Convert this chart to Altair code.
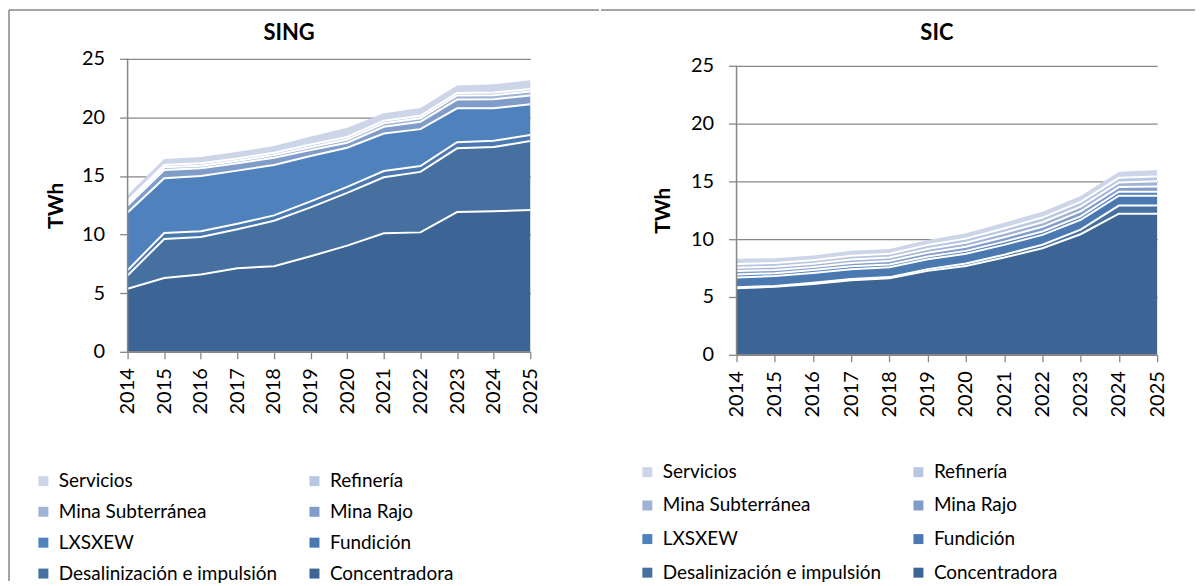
import altair as alt
import pandas as pd

years = list(range(2014, 2026))
categories = ["Servicios", "Refinería", "Mina Subterránea", "Mina Rajo",
              "LXSXEW", "Fundición", "Desalinización e impulsión", "Concentradora"]
palette = ["#CDD6E8", "#B7C6E1", "#A0B3D6", "#809CC9",
           "#4F81BD", "#4A78B0", "#4570A0", "#3C6494"]

# SING (TWh)
sing_concentradora = [5.38, 6.29, 6.60, 7.13, 7.30, 8.15, 9.06, 10.11, 10.19, 11.92, 12.00, 12.09]
sing_desalinizacion = [1.13, 3.34, 3.20, 3.32, 3.88, 4.17, 4.50, 4.78, 5.16, 5.44, 5.47, 5.89]
sing_fundicion = [0.45, 0.51, 0.48, 0.48, 0.46, 0.51, 0.51, 0.54, 0.50, 0.53, 0.53, 0.51]
sing_lxsxew = [4.93, 4.67, 4.73, 4.53, 4.30, 3.87, 3.34, 3.20, 3.15, 2.89, 2.78, 2.63]
sing_mina_rajo = [0.60, 0.71, 0.65, 0.62, 0.62, 0.51, 0.43, 0.57, 0.62, 0.74, 0.77, 0.74]
sing_mina_sub = [0.20, 0.22, 0.22, 0.22, 0.22, 0.25, 0.27, 0.30, 0.30, 0.35, 0.35, 0.35]
sing_refineria = [0.20, 0.20, 0.20, 0.20, 0.20, 0.22, 0.22, 0.22, 0.22, 0.22, 0.22, 0.22]
sing_servicios = [0.50, 0.51, 0.54, 0.57, 0.57, 0.69, 0.78, 0.64, 0.67, 0.64, 0.70, 0.73]

# SIC (TWh)
sic_concentradora = [5.76, 5.88, 6.13, 6.45, 6.62, 7.26, 7.69, 8.41, 9.22, 10.43, 12.21, 12.21]
sic_desalinizacion = [0.08, 0.08, 0.10, 0.10, 0.10, 0.15, 0.20, 0.25, 0.30, 0.40, 0.70, 0.70]
sic_fundicion = [0.85, 0.85, 0.85, 0.85, 0.85, 0.85, 0.85, 0.85, 0.85, 0.85, 0.85, 0.85]
sic_lxsxew = [0.25, 0.25, 0.25, 0.25, 0.25, 0.25, 0.25, 0.28, 0.30, 0.30, 0.35, 0.35]
sic_mina_rajo = [0.30, 0.28, 0.27, 0.30, 0.30, 0.32, 0.35, 0.38, 0.40, 0.42, 0.40, 0.45]
sic_mina_sub = [0.30, 0.28, 0.27, 0.30, 0.30, 0.32, 0.35, 0.38, 0.40, 0.42, 0.40, 0.45]
sic_refineria = [0.32, 0.32, 0.31, 0.32, 0.32, 0.34, 0.36, 0.38, 0.40, 0.40, 0.40, 0.42]
sic_servicios = [0.44, 0.42, 0.40, 0.42, 0.42, 0.45, 0.46, 0.50, 0.51, 0.52, 0.53, 0.56]

sing = {
    "Concentradora": sing_concentradora, "Desalinización e impulsión": sing_desalinizacion,
    "Fundición": sing_fundicion, "LXSXEW": sing_lxsxew, "Mina Rajo": sing_mina_rajo,
    "Mina Subterránea": sing_mina_sub, "Refinería": sing_refineria, "Servicios": sing_servicios,
}
sic = {
    "Concentradora": sic_concentradora, "Desalinización e impulsión": sic_desalinizacion,
    "Fundición": sic_fundicion, "LXSXEW": sic_lxsxew, "Mina Rajo": sic_mina_rajo,
    "Mina Subterránea": sic_mina_sub, "Refinería": sic_refineria, "Servicios": sic_servicios,
}

# legend is filled column by column: 2 columns x 4 rows
legend_order = [categories[i] for i in (0, 2, 4, 6, 1, 3, 5, 7)]
legend_colors = [palette[categories.index(c)] for c in legend_order]

GRAY = "#878787"
FONT = "Lato"


def stacked(d):
    rows = []
    base = [0.0] * len(years)
    for c in reversed(categories):  # Concentradora at the bottom
        for i, y in enumerate(years):
            rows.append({"year": y, "series": c, "bottom": base[i], "top": base[i] + d[c][i]})
        base = [b + v for b, v in zip(base, d[c])]
    return pd.DataFrame(rows)


def panel(d, name, w, h, yrange, title_x, title_y, ytitle_x, ytitle_y,
          leg_x, leg_y, row_pad, top_to, left_line):
    df = stacked(d)
    xscale = alt.Scale(domain=[2014, 2025], nice=False, zero=False)
    yscale = alt.Scale(domain=[0, 25], nice=False, range=yrange)
    xaxis = alt.Axis(values=years, format="d", labelAngle=270, labelAlign="right",
                     labelBaseline="middle", labelFont=FONT, labelFontSize=20,
                     labelColor="black", labelPadding=9, tickSize=7, tickColor=GRAY,
                     tickWidth=1.3, domain=False, grid=False, title=None,
                     labelFlush=False, labelOverlap=False, labelBound=False)
    yaxis = alt.Axis(values=[0, 5, 10, 15, 20, 25], grid=True, gridColor=GRAY,
                     gridWidth=1.3, domain=False, tickColor=GRAY, tickSize=8,
                     tickWidth=1.3, labelFont=FONT, labelFontSize=20,
                     labelColor="black", labelPadding=15, title="TWh",
                     titleFont=FONT, titleFontSize=21, titleFontWeight="bold",
                     titleColor="black", titleAngle=270, titleX=ytitle_x,
                     titleY=ytitle_y, titleAlign="center", titleBaseline="middle",
                     labelOverlap=False)
    X = alt.X("year:Q", scale=xscale, axis=xaxis)

    area = alt.Chart(df).mark_area(opacity=1).encode(
        x=X,
        y=alt.Y("top:Q", scale=yscale, axis=yaxis),
        y2="bottom:Q",
        color=alt.Color("series:N", scale=alt.Scale(domain=legend_order, range=legend_colors),
                        legend=alt.Legend(orient="none", legendX=leg_x, legendY=leg_y,
                                          columns=2, symbolType="square", symbolSize=100,
                                          symbolStrokeWidth=0, labelFont=FONT,
                                          labelFontSize=19, labelColor="black",
                                          labelOffset=6, rowPadding=row_pad,
                                          columnPadding=27, title=None, padding=0,
                                          labelLimit=0)),
    )
    lines = alt.Chart(df[df.series != "Servicios"]).mark_line(
        color="white", strokeWidth=2).encode(
        x=X, y=alt.Y("top:Q", scale=yscale, axis=yaxis), detail="series:N")

    dom = pd.DataFrame({"x": [2014], "x2": [2025], "y": [0], "y2": [25]})
    yline = alt.Chart(dom).mark_rule(color=GRAY, strokeWidth=1.5).encode(
        x=alt.X("x:Q", scale=xscale, axis=xaxis),
        y=alt.Y("y:Q", scale=yscale, axis=yaxis), y2="y2:Q")
    xline = alt.Chart(dom).mark_rule(color=GRAY, strokeWidth=1.5).encode(
        x=alt.X("x:Q", scale=xscale, axis=xaxis), x2="x2:Q",
        y=alt.Y("y:Q", scale=yscale, axis=yaxis))

    title = alt.Chart(pd.DataFrame({"t": [name]})).mark_text(
        font=FONT, fontSize=22, fontWeight="bold", color="black",
        align="center", baseline="alphabetic").encode(
        text="t:N", x=alt.value(title_x), y=alt.value(title_y))

    frame = [alt.Chart(pd.DataFrame({"a": [0]})).mark_rule(color=GRAY, strokeWidth=1.5).encode(
        x=alt.value(top_to[0]), x2=alt.value(top_to[1]), y=alt.value(-49))]
    if left_line is not None:
        frame.append(alt.Chart(pd.DataFrame({"a": [0]})).mark_rule(
            color=GRAY, strokeWidth=1.5).encode(
            x=alt.value(left_line), y=alt.value(-49), y2=alt.value(524)))

    return alt.layer(*frame, area, lines, yline, xline, title).properties(width=w, height=h)


# both plot areas share the top edge (page y ~57); SIC's scale is offset inside it
left = panel(sing, "SING", 404, 294, [294, 0], title_x=162, title_y=-19,
             ytitle_x=-71, ytitle_y=147, leg_x=-94, leg_y=414, row_pad=11,
             top_to=(-119, 473), left_line=-119)
right = panel(sic, "SIC", 422, 297, [297, 7], title_x=201, title_y=-19,
              ytitle_x=-73, ytitle_y=152, leg_x=-99, leg_y=405, row_pad=13.7,
              top_to=(-136, 460), left_line=None)

chart = alt.hconcat(left, right, spacing=0).resolve_scale(
    x="independent", y="independent", color="independent"
).resolve_legend(color="independent").properties(
    padding=0, background="white"
).configure_view(stroke=None)

chart.save("out.html", embed_options={"renderer": "svg", "actions": False})
